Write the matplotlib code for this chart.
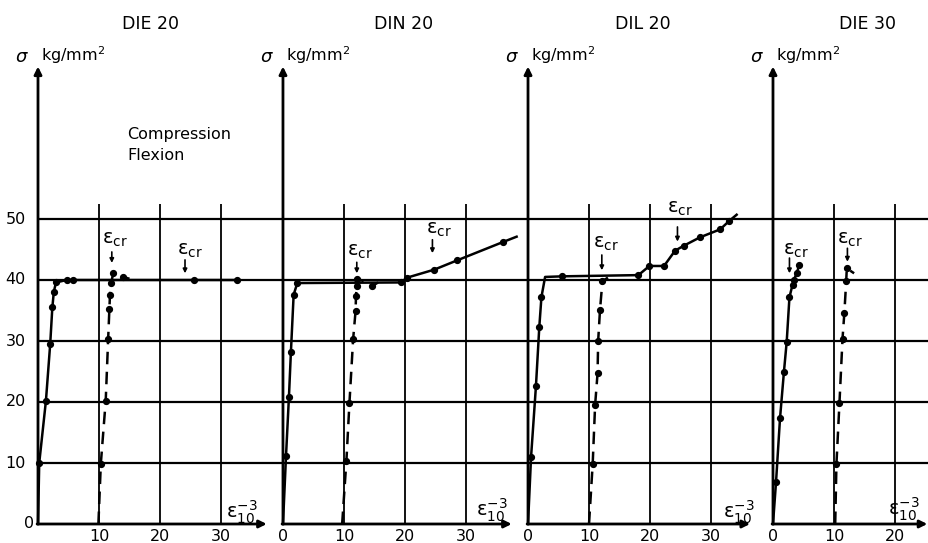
import matplotlib
matplotlib.use('Agg')
import matplotlib.pyplot as plt

# ---------------- data ----------------
titles = ['DIE 20', 'DIN 20', 'DIL 20', 'DIE 30']
y_ticks = [0, 10, 20, 30, 40, 50]
x_ticks_p1 = [10, 20, 30]
x_ticks_p2 = [0, 10, 20, 30]
x_ticks_p3 = [0, 10, 20, 30]
x_ticks_p4 = [0, 10, 20]

# compression (solid) curves, strain in 1e-3, stress kg/mm2
die20_comp_x = [0, 0.2, 1.3, 2.0, 2.35, 2.6, 2.95, 4.7, 5.7, 25.6, 32.7]
die20_comp_y = [0, 10.0, 20.2, 29.5, 35.5, 38.1, 39.6, 40.0, 40.0, 40.0, 40.0]
din20_comp_x = [0, 0.5, 0.98, 1.3, 1.75, 2.35, 19.3, 20.4, 24.8, 28.5, 36.0, 38.3]
din20_comp_y = [0, 11.2, 20.9, 28.2, 37.6, 39.5, 39.6, 40.4, 41.7, 43.2, 46.2, 47.1]
dil20_comp_x = [0, 0.5, 1.3, 1.85, 2.2, 2.8, 5.6, 18.1, 19.9, 22.3, 24.1, 25.5, 28.2, 31.5, 33.0, 34.2]
dil20_comp_y = [0, 11.0, 22.6, 32.3, 37.2, 40.5, 40.6, 40.8, 42.3, 42.3, 44.8, 45.6, 47.0, 48.3, 49.7, 50.7]
die30_comp_x = [0, 0.5, 1.15, 1.8, 2.25, 2.7, 3.2, 3.4, 3.9, 4.3]
die30_comp_y = [0, 6.9, 17.3, 25.0, 29.9, 37.2, 39.2, 40.0, 41.1, 42.5]

# flexion (dashed) curves
die20_flex_x = [9.9, 10.3, 11.1, 11.5, 11.7, 11.8, 11.97, 12.35, 13.3, 14.0, 15.0]
die20_flex_y = [0, 9.9, 20.2, 30.3, 35.2, 37.6, 39.5, 41.1, 40.6, 40.5, 40.2]
din20_flex_x = [9.7, 10.4, 10.9, 11.5, 11.9, 11.97, 12.1, 12.2, 13.0, 14.6, 15.6]
din20_flex_y = [0, 10.4, 19.9, 30.3, 34.9, 37.4, 39.0, 40.2, 39.9, 39.0, 39.6]
dil20_flex_x = [10.0, 10.6, 11.0, 11.4, 11.5, 11.8, 12.2, 13.1]
dil20_flex_y = [0, 9.8, 19.5, 24.7, 30.0, 35.1, 39.8, 40.4]
die30_flex_x = [10.2, 10.4, 10.9, 11.4, 11.7, 12.0, 12.1, 13.3]
die30_flex_y = [0, 9.8, 19.9, 30.4, 34.6, 39.8, 41.9, 41.1]

# critical strain markers: (arrow x, arrow top, arrow tip)
die20_ecr = [(12.1, 44.6, 42.8), (24.1, 43.3, 41.1)]
din20_ecr = [(12.1, 42.9, 41.1), (24.5, 46.6, 44.4)]
dil20_ecr = [(12.1, 44.1, 41.6), (24.5, 48.7, 46.3)]
die30_ecr = [(2.7, 43.6, 41.1), (12.2, 45.2, 43.0)]

# ---------------- layout ----------------
PX = 6.1                      # pixels per unit
offsets = [0.0, 40.16, 80.33, 120.49]
title_x = [18.5, 19.7, 18.8, 15.5]
xaxis_end = [37.5, 37.5, 36.4, 25.3]
ecr_label_pos = [[(12.6, 46.7), (24.9, 44.9)],
                 [(12.6, 44.6), (25.6, 48.2)],
                 [(12.8, 46.0), (24.9, 51.8)],
                 [(3.7, 44.9), (12.6, 46.6)]]
eps_label = [(33.4, 2.0), (34.3, 2.2), (34.6, 2.0), (21.5, 2.4)]

comp_series = [(die20_comp_x, die20_comp_y), (din20_comp_x, din20_comp_y),
               (dil20_comp_x, dil20_comp_y), (die30_comp_x, die30_comp_y)]
flex_series = [(die20_flex_x, die20_flex_y), (din20_flex_x, din20_flex_y),
               (dil20_flex_x, dil20_flex_y), (die30_flex_x, die30_flex_y)]
comp_marks = [list(range(1, 11)), list(range(1, 11)),
              [1, 2, 3, 4, 6, 7, 8, 9, 10, 11, 12, 13, 14], list(range(1, 10))]
flex_marks = [[1, 2, 3, 4, 5, 6, 7, 9], [1, 2, 3, 4, 5, 6, 7, 9],
              [1, 2, 3, 4, 5, 6], [1, 2, 3, 4, 5, 6]]
ecr_all = [die20_ecr, din20_ecr, dil20_ecr, die30_ecr]
xticks_all = [x_ticks_p1, x_ticks_p2, x_ticks_p3, x_ticks_p4]

fig = plt.figure(figsize=(9.29, 5.43), dpi=100)
ax = fig.add_axes([0, 0, 1, 1])
ax.set_xlim(-38 / PX, (929 - 38) / PX)
ax.set_ylim((524 - 543) / PX, 524 / PX)
ax.axis('off')

K = 'black'
FS = 11.5
ECR = r'$\mathregular{ε}_{\mathregular{cr}}$'
EPS = r'$\mathregular{ε}_{\mathregular{10}}^{\mathregular{-3}}$'

# horizontal grid lines across the whole figure
ax.hlines(y_ticks[1:], 0, (929 - 38) / PX, color=K, lw=1.6, zorder=1)

# y tick labels (first panel only)
for v in y_ticks:
    xl = -0.6 if v == 0 else -2.0
    ax.text(xl, v, str(v), ha='right', va='center', fontsize=FS, color=K)

for k in range(4):
    o = offsets[k]
    # vertical grid lines
    for t in xticks_all[k]:
        if t != 0:
            ax.vlines(o + t, 0, 52.5, color=K, lw=1.3, zorder=1)
        ax.text(o + t, -0.9, str(t), ha='center', va='top', fontsize=FS, color=K)
    # y axis with arrow
    ax.annotate('', xy=(o, 75.0), xytext=(o, 0),
                arrowprops=dict(arrowstyle='-|>', color=K, lw=2.0,
                                mutation_scale=11, shrinkA=0, shrinkB=0))
    # x axis with arrow
    ax.annotate('', xy=(o + xaxis_end[k], 0), xytext=(o - 0.15, 0),
                arrowprops=dict(arrowstyle='-|>', color=K, lw=2.0,
                                mutation_scale=11, shrinkA=0, shrinkB=0))
    # titles and axis labels
    ax.text(o + title_x[k], 82.0, titles[k], ha='center', va='center',
            fontsize=12.5, color=K)
    ax.text(o - 2.6, 76.6, r'$\sigma$', ha='center', va='center', fontsize=13, color=K)
    ax.text(o + 0.5, 76.9, r'kg/mm$^{\mathregular{2}}$', ha='left', va='center',
            fontsize=FS, color=K)
    ex, ey = eps_label[k]
    ax.text(o + ex, ey, EPS, ha='center', va='center', fontsize=14, color=K)

    # curves
    cx, cy = comp_series[k]
    ax.plot([o + v for v in cx], cy, '-', color=K, lw=1.8, marker='o', ms=4.2,
            markevery=comp_marks[k], zorder=3, solid_joinstyle='round')
    fx, fy = flex_series[k]
    ax.plot([o + v for v in fx], fy, '--', color=K, lw=1.8, marker='o', ms=4.2,
            markevery=flex_marks[k], dashes=(5, 3), zorder=3)

    # critical strain arrows and labels
    for j, (axx, top, tip) in enumerate(ecr_all[k]):
        ax.annotate('', xy=(o + axx, tip), xytext=(o + axx, top),
                    arrowprops=dict(arrowstyle='-|>', color=K, lw=1.2,
                                    mutation_scale=6, shrinkA=0, shrinkB=0))
        lx, ly = ecr_label_pos[k][j]
        ax.text(o + lx, ly, ECR, ha='center', va='center', fontsize=14, color=K)

ax.text((127 - 38) / PX, (524 - 135) / PX, 'Compression', ha='left', va='center',
        fontsize=FS, color=K)
ax.text((127 - 38) / PX, (524 - 155) / PX, 'Flexion', ha='left', va='center',
        fontsize=FS, color=K)

fig.savefig('out.png', dpi=100, facecolor='white')
